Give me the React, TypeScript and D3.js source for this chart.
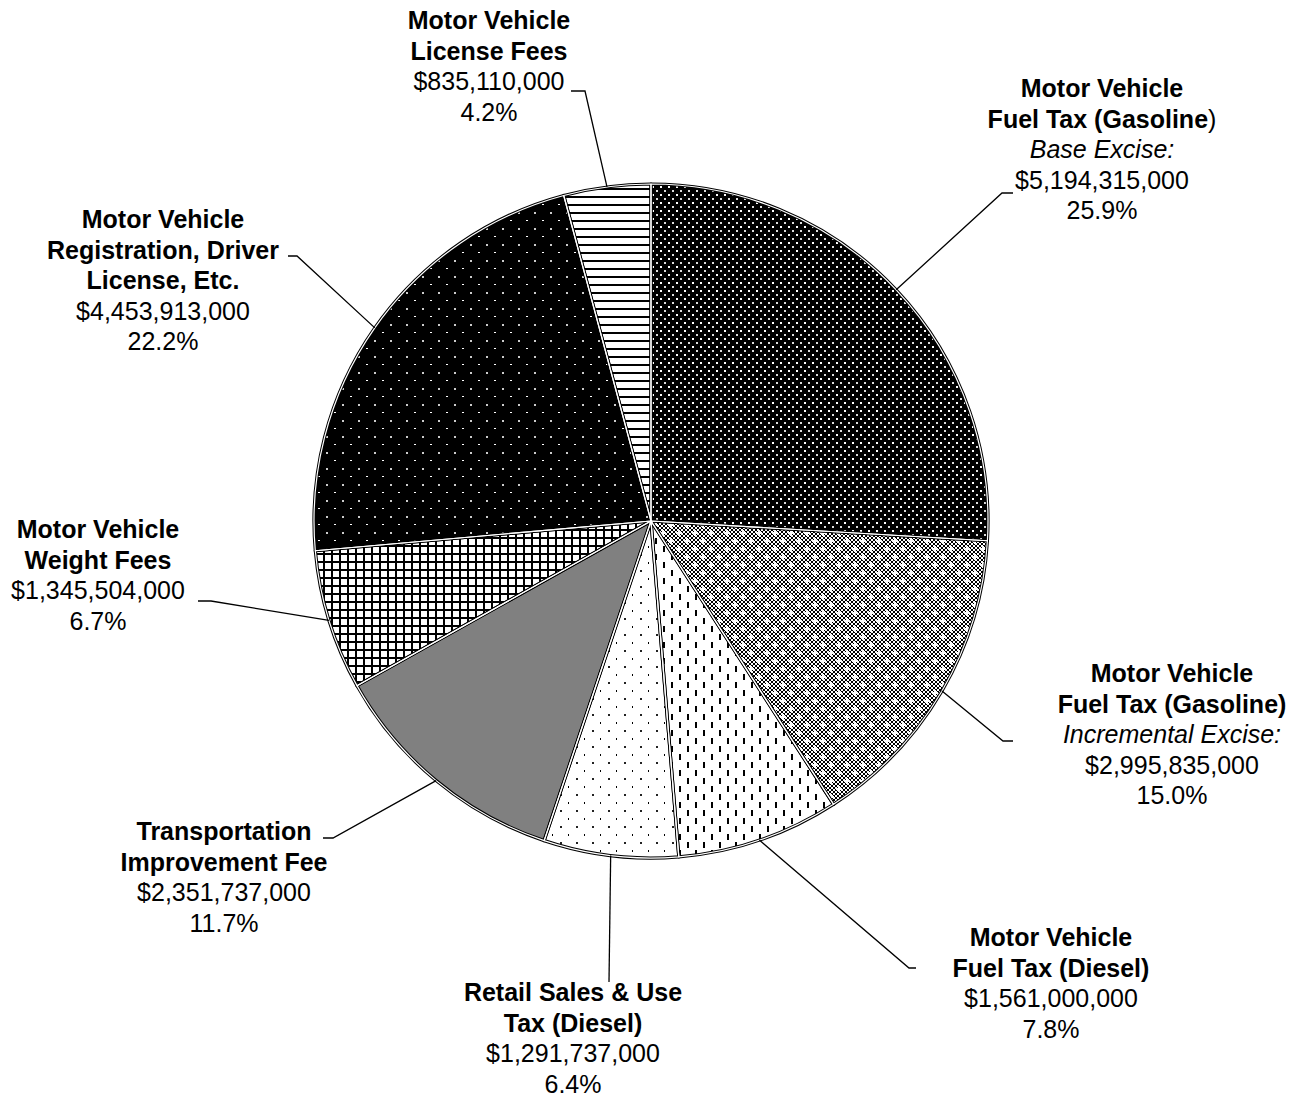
import React, { useEffect, useRef } from 'react';
import * as d3 from 'd3';

// Revenue sources, clockwise from 12 o'clock
const categories = [
  'baseExcise',
  'incrementalExcise',
  'dieselFuelTax',
  'retailSalesDiesel',
  'transportationFee',
  'weightFees',
  'registration',
  'licenseFees',
];

const titleLines: string[][] = [
  ['Motor Vehicle', 'Fuel Tax (Gasoline'],
  ['Motor Vehicle', 'Fuel Tax (Gasoline)'],
  ['Motor Vehicle', 'Fuel Tax (Diesel)'],
  ['Retail Sales & Use', 'Tax (Diesel)'],
  ['Transportation', 'Improvement Fee'],
  ['Motor Vehicle', 'Weight Fees'],
  ['Motor Vehicle', 'Registration, Driver', 'License, Etc.'],
  ['Motor Vehicle', 'License Fees'],
];

// non-bold closing bracket on the first gasoline label
const titleTails: (string | null)[] = [')', null, null, null, null, null, null, null];

const subtitles: (string | null)[] = [
  'Base Excise:',
  'Incremental Excise:',
  null, null, null, null, null, null,
];

const values = [
  5194315000,
  2995835000,
  1561000000,
  1291737000,
  2351737000,
  1345504000,
  4453913000,
  835110000,
];

export default function App() {
  const ref = useRef<SVGSVGElement | null>(null);

  useEffect(() => {
    if (!ref.current) return;
    const svg = d3.select(ref.current);
    svg.selectAll('*').remove();

    const width = 1306;
    const height = 1097;
    const cx = 651;
    const cy = 521;
    const radius = 337;
    const fontSize = 25;
    const lineH = 30.6;

    // label blocks: centre x and centre y of the first line
    const labelPos = [
      { x: 1102, y: 88 },
      { x: 1172, y: 673 },
      { x: 1051, y: 937 },
      { x: 573, y: 992 },
      { x: 224, y: 831 },
      { x: 98, y: 529 },
      { x: 163, y: 219 },
      { x: 489, y: 20 },
    ];
    // leader start (next to text) and elbow
    const leaders = [
      { s: [1013, 193], e: [1002, 193] },
      { s: [1013, 741], e: [1003, 741] },
      { s: [916, 968], e: [909, 968] },
      { s: [609, 982], e: [609, 982] },
      { s: [323, 838], e: [333, 838] },
      { s: [198, 601], e: [211, 601] },
      { s: [288, 256], e: [297, 256] },
      { s: [571, 91], e: [585, 91] },
    ];

    const defs = svg.append('defs');
    const pat = (id: string, w: number, h: number, bg: string) =>
      defs.append('pattern')
        .attr('id', id)
        .attr('patternUnits', 'userSpaceOnUse')
        .attr('width', w)
        .attr('height', h)
        .call(p => p.append('rect').attr('width', w).attr('height', h).attr('fill', bg));

    // base excise: black, dense white dots
    const p0 = pat('p0', 8, 8, '#000');
    p0.append('rect').attr('x', 1).attr('y', 1).attr('width', 2).attr('height', 2).attr('fill', '#fff');
    p0.append('rect').attr('x', 5).attr('y', 5).attr('width', 2).attr('height', 2).attr('fill', '#ddd');

    // incremental excise: small checker with white crosses
    const p1 = pat('p1', 16, 16, '#fff');
    for (let i = 0; i < 8; i++) {
      for (let j = 0; j < 8; j++) {
        if ((i + j) % 2 === 0) {
          p1.append('rect').attr('x', i * 2).attr('y', j * 2).attr('width', 2).attr('height', 2).attr('fill', '#000');
        }
      }
    }
    [[4, 4], [12, 12]].forEach(([x, y]) => {
      p1.append('rect').attr('x', x - 3).attr('y', y - 1).attr('width', 6).attr('height', 2).attr('fill', '#fff');
      p1.append('rect').attr('x', x - 1).attr('y', y - 3).attr('width', 2).attr('height', 6).attr('fill', '#fff');
    });

    // diesel fuel tax: vertical dashes
    const p2 = pat('p2', 16, 16, '#fff');
    p2.append('rect').attr('x', 4).attr('y', 1).attr('width', 2).attr('height', 6).attr('fill', '#000');
    p2.append('rect').attr('x', 12).attr('y', 9).attr('width', 2).attr('height', 6).attr('fill', '#000');

    // retail sales: sparse dots
    const p3 = pat('p3', 16, 16, '#fff');
    p3.append('rect').attr('x', 5).attr('y', 1).attr('width', 2).attr('height', 2).attr('fill', '#222');
    p3.append('rect').attr('x', 13).attr('y', 9).attr('width', 1).attr('height', 2).attr('fill', '#000');

    // weight fees: grid
    const p5 = pat('p5', 8, 8, '#fff');
    p5.append('rect').attr('x', 0).attr('y', 0).attr('width', 8).attr('height', 2).attr('fill', '#000');
    p5.append('rect').attr('x', 0).attr('y', 0).attr('width', 2).attr('height', 8).attr('fill', '#000');

    // registration: black, sparse white dots
    const p6 = pat('p6', 16, 16, '#000');
    p6.append('rect').attr('x', 3).attr('y', 3).attr('width', 2).attr('height', 1).attr('fill', '#fff');
    p6.append('rect').attr('x', 11).attr('y', 11).attr('width', 2).attr('height', 2).attr('fill', '#ccc');

    // license fees: horizontal lines
    const p7 = pat('p7', 8, 8, '#fff');
    p7.append('rect').attr('x', 0).attr('y', 3).attr('width', 8).attr('height', 2).attr('fill', '#000');

    const fills = ['url(#p0)', 'url(#p1)', 'url(#p2)', 'url(#p3)', '#808080', 'url(#p5)', 'url(#p6)', 'url(#p7)'];

    const data = categories.map((c, i) => ({ key: c, value: values[i], i }));
    const total = d3.sum(values);
    const pie = d3.pie<typeof data[number]>().sort(null).value(d => d.value);
    const arcs = pie(data);
    const arc = d3.arc<d3.PieArcDatum<typeof data[number]>>().innerRadius(0).outerRadius(radius);

    svg.attr('width', width).attr('height', height).attr('viewBox', `0 0 ${width} ${height}`);
    svg.append('rect').attr('width', width).attr('height', height).attr('fill', '#fff');

    const g = svg.append('g').attr('transform', `translate(${cx},${cy})`);

    g.selectAll('path.slice')
      .data(arcs)
      .join('path')
      .attr('class', 'slice')
      .attr('d', arc)
      .attr('fill', d => fills[d.data.i]);

    // black edges with a thin white gap between slices
    g.selectAll('path.edge')
      .data(arcs)
      .join('path')
      .attr('class', 'edge')
      .attr('d', arc)
      .attr('fill', 'none')
      .attr('stroke', '#000')
      .attr('stroke-width', 3.2)
      .attr('stroke-linejoin', 'round');
    g.selectAll('path.gap')
      .data(arcs)
      .join('path')
      .attr('class', 'gap')
      .attr('d', arc)
      .attr('fill', 'none')
      .attr('stroke', '#fff')
      .attr('stroke-width', 1.2)
      .attr('stroke-linejoin', 'round');

    // leader lines
    const line = d3.line();
    arcs.forEach((a, i) => {
      const mid = (a.startAngle + a.endAngle) / 2;
      const end: [number, number] = [cx + radius * Math.sin(mid), cy - radius * Math.cos(mid)];
      const l = leaders[i];
      svg.append('path')
        .attr('d', line([l.s as [number, number], l.e as [number, number], end]))
        .attr('fill', 'none')
        .attr('stroke', '#000')
        .attr('stroke-width', 1.3);
    });

    const money = d3.format('$,');
    const pct = d3.format('.1%');

    arcs.forEach((a, i) => {
      const pos = labelPos[i];
      const t = svg.append('text')
        .attr('text-anchor', 'middle')
        .attr('font-family', '"Liberation Sans", Arial, sans-serif')
        .attr('font-size', fontSize)
        .attr('fill', '#000');
      let row = 0;
      titleLines[i].forEach((ln, k) => {
        const ts = t.append('tspan')
          .attr('x', pos.x)
          .attr('y', pos.y + row * lineH + fontSize * 0.36);
        ts.append('tspan').attr('font-weight', 'bold').text(ln);
        if (k === titleLines[i].length - 1 && titleTails[i]) {
          ts.append('tspan').text(titleTails[i] as string);
        }
        row++;
      });
      if (subtitles[i]) {
        t.append('tspan')
          .attr('x', pos.x)
          .attr('y', pos.y + row * lineH + fontSize * 0.36)
          .attr('font-style', 'italic')
          .text(subtitles[i] as string);
        row++;
      }
      t.append('tspan')
        .attr('x', pos.x)
        .attr('y', pos.y + row * lineH + fontSize * 0.36)
        .text(money(a.data.value));
      row++;
      t.append('tspan')
        .attr('x', pos.x)
        .attr('y', pos.y + row * lineH + fontSize * 0.36)
        .text(pct(a.data.value / total));
    });
  }, []);

  return (
    <svg
      ref={ref}
      style={{ position: 'absolute', left: 0, top: 0, display: 'block' }}
    />
  );
}
